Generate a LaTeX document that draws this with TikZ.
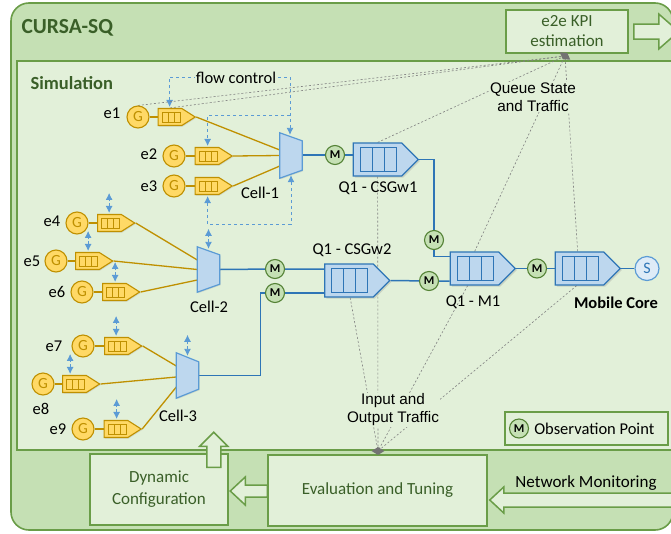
\documentclass[tikz,border=0pt]{standalone}
\usepackage{fontspec}
\setmainfont{Carlito}
\newfontfamily\arialfont{Liberation Sans}
\usetikzlibrary{arrows.meta,shapes.symbols,shapes.geometric,calc,shadows,positioning}
\definecolor{outerfill}{HTML}{C5E0B4}
\definecolor{simfill}{HTML}{E2F0D9}
\definecolor{frameline}{HTML}{6A9D48}
\definecolor{darkgreen}{HTML}{3A5F28}
\definecolor{goldline}{HTML}{BF9000}
\definecolor{goldfill}{HTML}{FFD966}
\definecolor{blueline}{HTML}{2E75B6}
\definecolor{bluefill}{HTML}{BDD7EE}
\definecolor{flowblue}{HTML}{5B9BD5}
\definecolor{sinkfill}{HTML}{DEEBF7}
\definecolor{mline}{HTML}{548235}
\definecolor{mfill}{HTML}{C5E0B4}
\pgfdeclarelayer{frame}
\pgfdeclarelayer{wires}
\pgfsetlayers{frame,wires,main}

\tikzset{
  frame/.style={draw=frameline, line width=1.6pt},
  gbox/.style={draw=frameline, fill=simfill, line width=1.5pt, text=darkgreen, align=center,
    font=\fontsize{17}{20}\selectfont, inner sep=0},
  hollow/.style={draw=frameline, fill=simfill, line width=1.5pt, line join=miter},
  gen/.style={circle, draw=goldline, fill=goldfill, line width=1.1pt, minimum size=22, inner sep=0,
    text=goldline, font=\fontsize{15.5}{15.5}\selectfont},
  yqueue/.style={signal, signal to=east, signal pointer angle=65, draw=goldline, fill=goldfill,
    line width=1.1pt, minimum width=37, minimum height=17, inner sep=0,
    drop shadow={shadow xshift=1pt, shadow yshift=-1pt, opacity=0.2},
    path picture={\foreach \k in {0,1,2}
      \draw[goldline, line width=0.8pt] ([shift={(4+6*\k,3.5)}]path picture bounding box.north west) rectangle ++(6,10);}},
  bqueue/.style={signal, signal to=east, signal pointer angle=90, draw=blueline, fill=bluefill,
    line width=1.2pt, minimum width=65, minimum height=33, inner sep=0,
    drop shadow={shadow xshift=1.5pt, shadow yshift=-1.5pt, opacity=0.25},
    path picture={\foreach \k in {0,1,2}
      \draw[blueline, line width=0.8pt] ([shift={(7+12*\k,4.5)}]path picture bounding box.north west) rectangle ++(12,24);}},
  cell/.style={minimum width=22, minimum height=45, inner sep=0},
  cellshape/.style={draw=flowblue, fill=bluefill, line width=1.2pt,
    drop shadow={shadow xshift=1pt, shadow yshift=-1pt, opacity=0.2}},
  obs/.style={circle, draw=mline, fill=mfill, line width=1.1pt, minimum size=19, inner sep=0,
    font=\bfseries\fontsize{12}{12}\selectfont},
  sink/.style={circle, draw=flowblue, fill=sinkfill, line width=1.2pt, minimum size=24, inner sep=0,
    text=blueline, font=\fontsize{16}{16}\selectfont},
  lab/.style={font=\fontsize{16.5}{19}\selectfont, inner sep=1pt},
  arlab/.style={font=\arialfont\fontsize{15.3}{18}\selectfont, align=center, fill=simfill, inner sep=1pt},
  gwire/.style={goldline, line width=1.3pt},
  bwire/.style={blueline, line width=1.5pt},
  flowline/.style={flowblue, dashed, line width=0.9pt},
  ctrl/.style={flowblue, dash pattern=on 3pt off 2pt, line width=0.9pt,
    {Latex[length=7pt,width=7pt]}-{Latex[length=7pt,width=7pt]}},
  obsline/.style={gray, dash pattern=on 2pt off 2pt, line width=0.6pt},
  blob/.style={diamond, fill=gray!90!black, inner sep=0, minimum width=13, minimum height=8},
}

\begin{document}
\begin{tikzpicture}[x=1pt, y=-1pt]
    \useasboundingbox (0,0) rectangle (671,533);

    % frames
    \begin{pgfonlayer}{frame}
        \draw[frame, fill=outerfill, rounded corners=18] (11,3) rectangle (673,530);
        \draw[frame, fill=simfill] (17,61) rectangle (690,450);
    \end{pgfonlayer}
    \node[anchor=west, text=darkgreen, font=\bfseries\fontsize{21.5}{22}\selectfont] (title) at (18,28) {CURSA-SQ};
    \node[anchor=west, text=darkgreen, font=\bfseries\fontsize{18.5}{20}\selectfont] (simtitle) at (27,83) {Simulation};

    % green boxes
    \node[gbox, minimum width=122, minimum height=43] (kpi) at (567,31.5) {e2e KPI\\estimation};
    \node[gbox, minimum width=138, minimum height=71, font=\fontsize{17}{22}\selectfont] (dyn) at (159,489.5) {Dynamic\\Configuration};
    \node[gbox, minimum width=219, minimum height=71] (eval) at (377.5,490.5) {Evaluation and Tuning};
    \node[gbox, minimum width=163, minimum height=33] (legend) at (586.5,428.5) {};
    \node[obs] (mkey) at (519,428.5) {M};
    \node[lab, right=4pt of mkey] (keytext) {Observation Point};
    \node[lab, font=\fontsize{17}{20}\selectfont] (netmon) at (586,483) {Network Monitoring};

    % sources and edge queues
    \node[gen] (g1) at (138,117) {G};
    \node[gen] (g2) at (174,156) {G};
    \node[gen] (g3) at (174,186) {G};
    \node[gen] (g4) at (77,223) {G};
    \node[gen] (g5) at (56,261) {G};
    \node[gen] (g6) at (82,292) {G};
    \node[gen] (g7) at (83,346) {G};
    \node[gen] (g8) at (43,384) {G};
    \node[gen] (g9) at (83,429) {G};
    \node[yqueue] (q1) at (170,117) {};
    \node[yqueue] (q2) at (207,156) {};
    \node[yqueue] (q3) at (207,186) {};
    \node[yqueue] (q4) at (109.5,223) {};
    \node[yqueue] (q5) at (87.5,261) {};
    \node[yqueue] (q6) at (114.5,292) {};
    \node[yqueue] (q7) at (116.5,346) {};
    \node[yqueue] (q8) at (74.5,384) {};
    \node[yqueue] (q9) at (116,429) {};
    \node[lab] at (112,113) {e1};
    \node[lab] at (149,154) {e2};
    \node[lab] at (149,186) {e3};
    \node[lab] at (52,221) {e4};
    \node[lab] at (32,261) {e5};
    \node[lab] at (57,292) {e6};
    \node[lab] at (54,346) {e7};
    \node[lab] at (41,409) {e8};
    \node[lab] at (58,429) {e9};

    % cells
    \node[cell] (c1) at (291,155.5) {};
    \node[cell] (c2) at (208.5,269.5) {};
    \node[cell] (c3) at (187.5,375.5) {};
    \filldraw[cellshape] (c1.north west) -- ([shift={(0,8)}]c1.north east) -- ([shift={(0,-8)}]c1.south east) -- (c1.south west) -- cycle;
    \filldraw[cellshape] (c2.north west) -- ([shift={(0,8)}]c2.north east) -- ([shift={(0,-8)}]c2.south east) -- (c2.south west) -- cycle;
    \filldraw[cellshape] (c3.north west) -- ([shift={(0,9)}]c3.north east) -- ([shift={(0,-9)}]c3.south east) -- (c3.south west) -- cycle;
    \node[lab] at (260,193) {Cell-1};
    \node[lab] at (209,307) {Cell-2};
    \node[lab] at (178,416) {Cell-3};

    % transport and core queues
    \node[bqueue] (qw1) at (377.5,159.5) {};
    \node[bqueue] (qw2) at (349,280.5) {};
    \node[bqueue] (qm1) at (474.5,268.5) {};
    \node[bqueue] (qmc) at (579.5,268.5) {};
    \node[sink] (s) at (647,268.5) {S};
    \node[lab] at (378,188) {Q1 - CSGw1};
    \node[lab] at (352,250) {Q1 - CSGw2};
    \node[lab] at (473,302) {Q1 - M1};
    \node[lab, font=\bfseries\fontsize{16.5}{19}\selectfont] at (616,303) {Mobile Core};

    % observation points
    \node[obs] (m1) at (335,155) {M};
    \node[obs] (m2) at (434,240) {M};
    \node[obs] (m3) at (275,269) {M};
    \node[obs] (m4) at (275,293) {M};
    \node[obs] (m5) at (429,281) {M};
    \node[obs] (m6) at (537,268.5) {M};

    \coordinate (kpiin) at (565,56);
    \coordinate (ioin) at (378,451);

    \begin{pgfonlayer}{wires}
        % radio links
        \draw[gwire] (g1) -- (q1);  \draw[gwire] (g2) -- (q2);  \draw[gwire] (g3) -- (q3);
        \draw[gwire] (g4) -- (q4);  \draw[gwire] (g5) -- (q5);  \draw[gwire] (g6) -- (q6);
        \draw[gwire] (g7) -- (q7);  \draw[gwire] (g8) -- (q8);  \draw[gwire] (g9) -- (q9);
        \draw[gwire] (q1.east) -- ([shift={(0,-5.5)}]c1.west);
        \draw[gwire] (q2.east) -- (c1.west);
        \draw[gwire] (q3.east) -- ([shift={(0,10.5)}]c1.west);
        \draw[gwire] (q4.east) -- ([shift={(0,-9.5)}]c2.west);
        \draw[gwire] (q5.east) -- (c2.west);
        \draw[gwire] (q6.east) -- ([shift={(0,10.5)}]c2.west);
        \draw[gwire] (q7.east) -- ([shift={(0,-9.5)}]c3.west);
        \draw[gwire] (q8.east) -- ([shift={(0,1.5)}]c3.west);
        \draw[gwire] (q9.east) -- ([shift={(0,11.5)}]c3.west);

        % backhaul links
        \draw[bwire] (c1.east |- m1) -- (m1) -- (m1 -| qw1.west);
        \draw[bwire] (qw1.east) -| (m2) |- ([shift={(0,-12)}]qm1.west);
        \draw[bwire] (c2.east) -- (m3) -- (m3 -| qw2.west);
        \draw[bwire] (c3.east) -- ++(62,0) |- (m4) -- (m4 -| qw2.west);
        \draw[bwire] (qw2.east) -- (m5) -- (m5 -| qm1.west);
        \draw[bwire] (qm1.east) -- (m6) -- (qmc.west);
        \draw[bwire] (qmc.east) -- (s);

        % flow control
        \draw[flowline, {Latex[length=7pt,width=7pt]}-{Latex[length=7pt,width=7pt]}]
            ($(q1.north west)+(12,-1)$) -- ++(0,-30) -| ($(c1.north)+(-1,2)$);
        \draw[flowline, -{Latex[length=7pt,width=7pt]}]
            ($(c1.north)+(-1,-17)$) -| ($(q2.north west)+(13,-1)$);
        \draw[flowline, {Latex[length=7pt,width=7pt]}-{Latex[length=7pt,width=7pt]}]
            ($(q3.south west)+(13,1)$) -- ++(0,28) -| ($(c1.south)+(0,-3)$);
        \draw[ctrl] ($(q4.north west)+(12,-1)$) -- ++(0,-20);
        \draw[ctrl] ($(q5.north west)+(13,-1)$) -- ++(0,-20);
        \draw[ctrl] ($(q6.north west)+(13,-1)$) -- ++(0,-20);
        \draw[ctrl] ($(q7.north west)+(12,-1)$) -- ++(0,-20);
        \draw[ctrl] ($(q8.north west)+(8,-1)$) -- ++(0,-20);
        \draw[ctrl] ($(q9.north west)+(13,-1)$) -- ++(0,-20);
        \draw[ctrl] ($(c2.north)+(0,2)$) -- ++(0,-20);
        \draw[ctrl] ($(c3.north)+(0,3)$) -- ++(0,-21);

        % monitoring taps
        \draw[obsline] (g1.north) -- (kpiin);
        \draw[obsline] (q1.north) -- (kpiin);
        \draw[obsline] ($(qw1.north west)+(25,0)$) -- (kpiin);
        \draw[obsline] ($(qm1.north west)+(25,0)$) -- (kpiin);
        \draw[obsline] ($(qmc.north west)+(23,0)$) -- (kpiin);
        \draw[obsline] ($(qw1.south west)+(25,0)$) -- (ioin);
        \draw[obsline] ($(qw2.south west)+(26,0)$) -- (ioin);
        \draw[obsline] ($(qm1.south west)+(18,0)$) -- (ioin);
        \draw[obsline] ($(qmc.south west)+(22,0)$) -- (ioin);
    \end{pgfonlayer}

    \node[lab, fill=simfill] (fc) at (236,77.5) {flow control};
    \node[arlab] (qstate) at (533,97) {Queue State\\and Traffic};
    \node[arlab] (iotraffic) at (393,410) {Input and\\Output Traffic};
    \node[blob, rotate=-35] at (kpiin) {};
    \node[blob] at (ioin) {};

    % block arrows
    \draw[hollow] ([shift={(5,-7.5)}]kpi.east) -- ++(25,0) -- ++(0,-10) -- ++(20,17.5) -- ++(-20,17.5) -- ++(0,-10) -- ++(-25,0) -- cycle;
    \draw[hollow] ($(dyn.north east)+(-22,14)$) -- ++(0,-21) -- ++(-7,0) -- ++(14,-14) -- ++(14,14) -- ++(-7,0) -- ++(0,21) -- cycle;
    \draw[hollow] ($(eval.west)+(0,-5.5)$) -- ++(-22,0) -- ++(0,-8) -- ++(-15,14) -- ++(15,14) -- ++(0,-8) -- ++(22,0) -- cycle;
    \draw[hollow] ($(eval.east)+(2,9.5)$) -- ++(14,-13) -- ++(0,6) -- ++(190,0) -- ++(0,14) -- ++(-190,0) -- ++(0,6) -- cycle;

\end{tikzpicture}
\end{document}
